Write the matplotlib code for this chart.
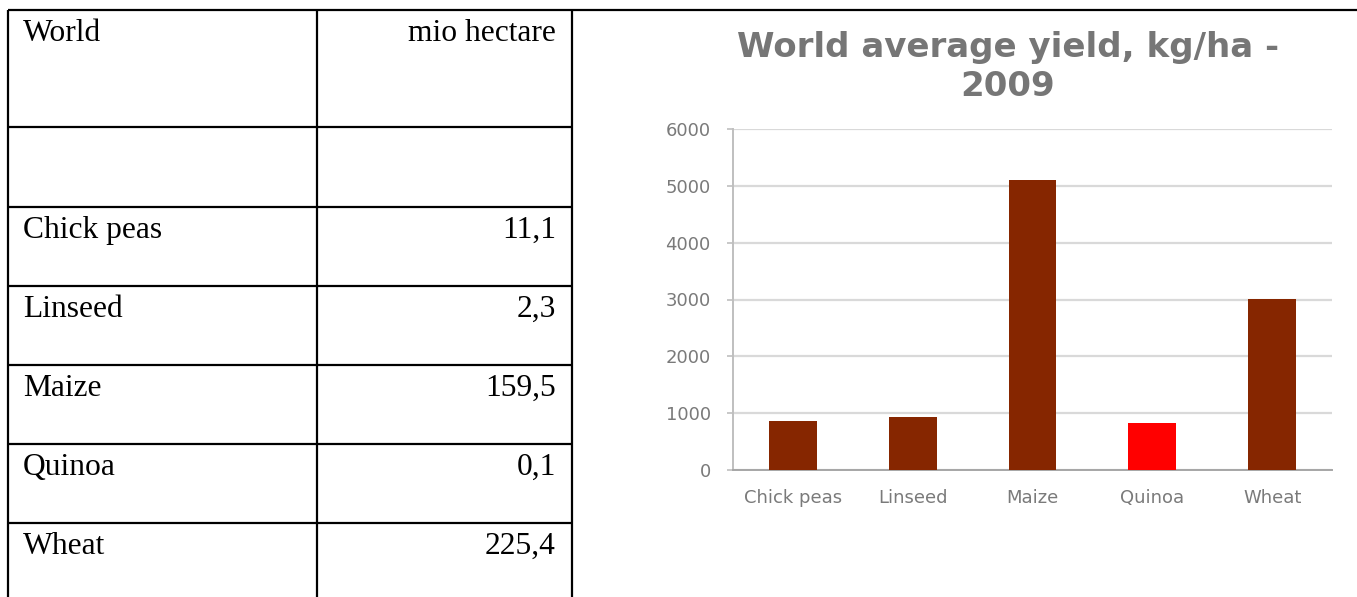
import matplotlib
matplotlib.use("Agg")
import matplotlib.pyplot as plt

# Harvested area table (left)
area_labels = ["World", "", "Chick peas", "Linseed", "Maize", "Quinoa", "Wheat"]
area_values = ["mio hectare", "", "11,1", "2,3", "159,5", "0,1", "225,4"]

# Average yield chart (right)
crops = ["Chick peas", "Linseed", "Maize", "Quinoa", "Wheat"]
yield_kg_ha = [870, 940, 5110, 830, 3015]
bar_colors = ["#862600", "#862600", "#862600", "#FF0000", "#862600"]
y_ticks = [0, 1000, 2000, 3000, 4000, 5000, 6000]

W, H = 1357, 597
fig = plt.figure(figsize=(W / 100, H / 100), dpi=100)
fig.patch.set_facecolor("white")

# Pixel-space canvas for the table frame
canvas = fig.add_axes([0, 0, 1, 1])
canvas.set_xlim(0, W)
canvas.set_ylim(H, 0)
canvas.axis("off")

row_edges = [10, 127, 207, 286, 365, 444, 523, 610]
col_left, col_mid, col_right = 8, 317, 572
lw = 1.6

# outer top rule spans the whole page width
canvas.plot([col_left, W], [row_edges[0], row_edges[0]], color="black", lw=lw,
            solid_capstyle="butt")
for y in row_edges[1:-1]:
    canvas.plot([col_left, col_right], [y, y], color="black", lw=lw,
                solid_capstyle="butt")
for x in (col_left, col_mid, col_right):
    canvas.plot([x, x], [row_edges[0], row_edges[-1]], color="black", lw=lw,
                solid_capstyle="butt")

serif = ["Liberation Serif", "DejaVu Serif"]
for i, (lab, val) in enumerate(zip(area_labels, area_values)):
    base = row_edges[i] + 31
    if lab:
        canvas.text(23, base, lab, fontsize=22.7, family=serif,
                    ha="left", va="baseline", color="black")
    if val:
        canvas.text(556, base, val, fontsize=22.7, family=serif,
                    ha="right", va="baseline", color="black")

# Bar chart
ax = fig.add_axes([733 / W, 1 - 470 / H, (1332 - 733) / W, (470 - 129) / H])
x = list(range(len(crops)))
ax.bar(x, yield_kg_ha, width=0.4, color=bar_colors, zorder=3)
ax.set_xlim(-0.5, len(crops) - 0.5)
ax.set_ylim(0, 6000)
ax.set_yticks(y_ticks)
ax.set_yticklabels([str(v) for v in y_ticks])
ax.set_xticks(x)
ax.set_xticklabels(crops)
ax.yaxis.grid(True, color="#D9D9D9", lw=1.6, zorder=0)
ax.set_axisbelow(True)
for side in ("top", "right"):
    ax.spines[side].set_visible(False)
ax.spines["left"].set_color("#BFBFBF")
ax.spines["bottom"].set_color("#A6A6A6")
ax.spines["left"].set_linewidth(1.4)
ax.spines["bottom"].set_linewidth(1.4)
ax.tick_params(axis="y", length=4, width=1.2, color="#BFBFBF",
               labelsize=13, labelcolor="#7A7A7A", pad=12)
ax.tick_params(axis="x", length=0, labelsize=13, labelcolor="#7A7A7A", pad=14)

fig.text(1008 / W, 1 - 67 / H, "World average yield, kg/ha -\n2009",
         ha="center", va="center", fontsize=24.5, fontweight="bold",
         color="#767676", linespacing=1.2)

fig.savefig("out.png", dpi=100)
